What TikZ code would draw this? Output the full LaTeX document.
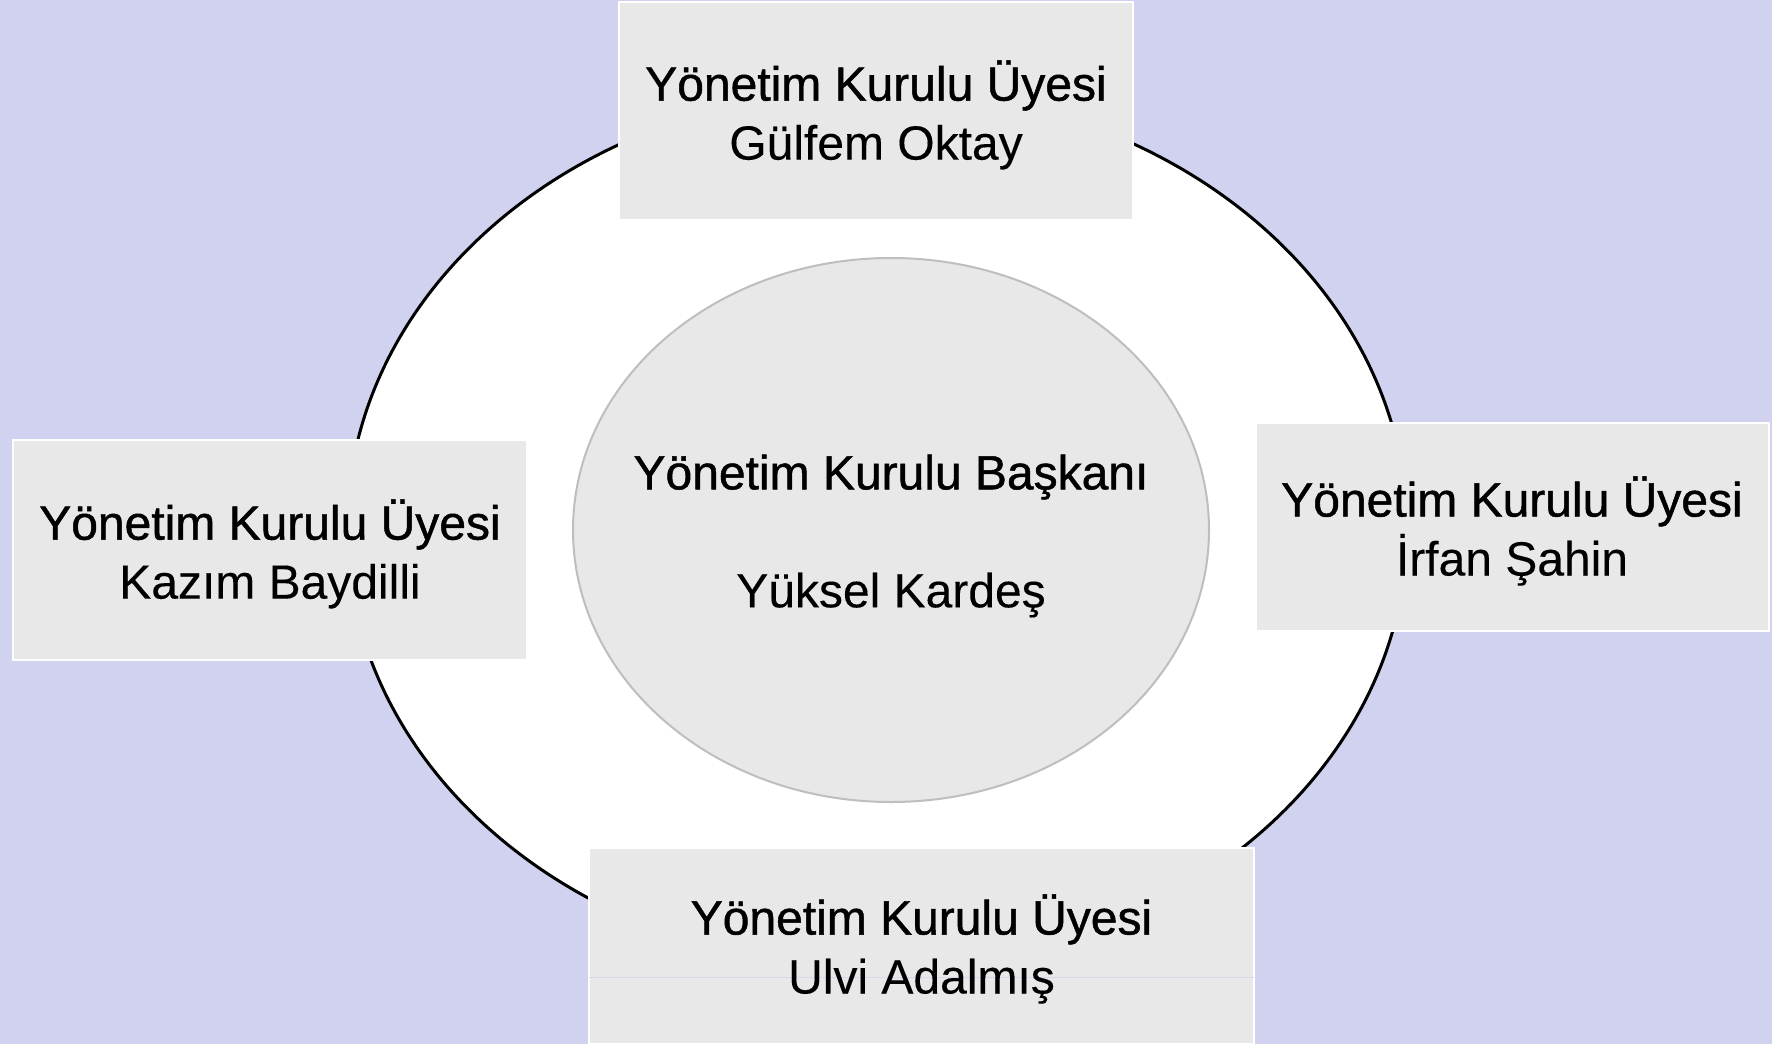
\documentclass[tikz,border=0pt]{standalone}
\usepackage{fontspec}
\setmainfont{Liberation Sans}
\newfontfamily\titlefont[FakeBold=1.0]{Liberation Sans}
\newfontfamily\namefont[FakeBold=0.2]{Liberation Sans}
\usetikzlibrary{shapes.geometric}
\definecolor{bglav}{RGB}{209,210,240}
\definecolor{boxgray}{RGB}{232,232,232}
\definecolor{ringgray}{RGB}{190,190,190}
\definecolor{faintline}{RGB}{214,216,240}
\tikzset{
  memberbox/.style={rectangle, draw=white, line width=2pt, fill=boxgray,
    inner sep=0pt, outer sep=0pt},
  boxtext/.style={inner sep=0pt, outer sep=0pt, align=center, text=black,
    font=\fontsize{48}{59}\selectfont},
  outerring/.style={ellipse, draw=black, line width=3pt, fill=white,
    inner sep=0pt, outer sep=0pt},
  chairoval/.style={ellipse, draw=ringgray, line width=2pt, fill=boxgray,
    inner sep=0pt, outer sep=0pt}
}
\begin{document}
\begin{tikzpicture}[x=1pt,y=-1pt]
\useasboundingbox (0,0) rectangle (1772,1044);
\fill[bglav] (0,0) rectangle (1772,1044);
\node[outerring, minimum width=1060pt, minimum height=880pt] (ring) at (877,529) {};
\node[chairoval, minimum width=636pt, minimum height=544pt] (chair) at (891,530) {};
\node[boxtext] (chairtext) at ([yshift=-6pt]chair.center)
  {{\titlefont Yönetim Kurulu Başkanı}\\[59pt]{\namefont Yüksel Kardeş}};
\node[memberbox, minimum width=514pt, minimum height=218pt] (top) at (876,111) {};
\node[boxtext] (toptext) at ([yshift=-4pt]top.center)
  {{\titlefont Yönetim Kurulu Üyesi}\\{\namefont Gülfem Oktay}};
\node[memberbox, minimum width=514pt, minimum height=220pt] (left) at (270,550) {};
\node[boxtext] (lefttext) at ([yshift=-4pt]left.center)
  {{\titlefont Yönetim Kurulu Üyesi}\\{\namefont Kazım Baydilli}};
\node[memberbox, minimum width=513pt, minimum height=208pt] (right) at (1512,527) {};
\node[boxtext] (righttext) at ([yshift=-4pt]right.center)
  {{\titlefont Yönetim Kurulu Üyesi}\\{\namefont İrfan Şahin}};
\node[memberbox, minimum width=665pt, minimum height=196pt] (bottom) at (921.5,946) {};
\draw[faintline, line width=1pt] (bottom.west |- 0,977) -- (bottom.east |- 0,977);
\node[boxtext] (bottomtext) at ([yshift=-3pt]bottom.center)
  {{\titlefont Yönetim Kurulu Üyesi}\\{\namefont Ulvi Adalmış}};
\end{tikzpicture}
\end{document}
